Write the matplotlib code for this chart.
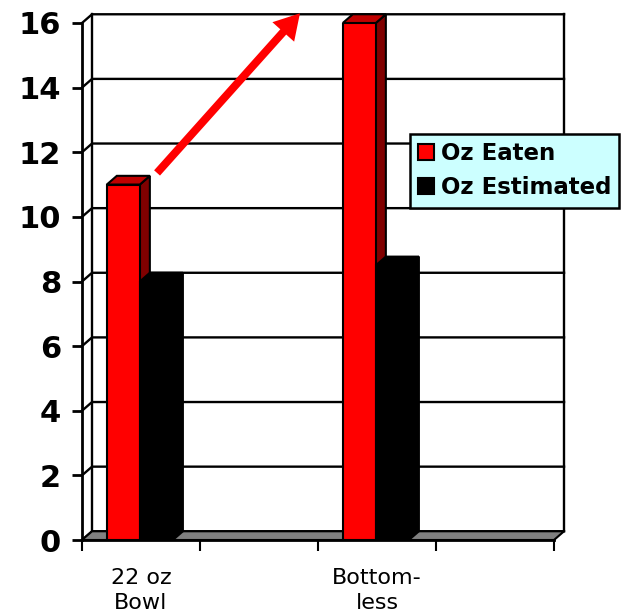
import matplotlib
matplotlib.use("Agg")
import matplotlib.pyplot as plt
from matplotlib.patches import Polygon, Patch

categories = ["22 oz\nBowl", "", "Bottom-\nless", ""]
oz_eaten = [11, 16]
oz_estimated = [8, 8.5]
bar_slots = [0, 2]          # which category each pair of bars sits in
series_names = ["Oz Eaten", "Oz Estimated"]
yticks = list(range(0, 17, 2))

# depth of the fake 3d box, in data units
DX, DY = 0.085, 0.27
BAR_W = 0.28
BAR_OFF = 0.21


def bar3d(ax, x0, h, face, side, top, z):
    ax.bar(x0, h, BAR_W, align="edge", color=face, edgecolor="black",
           linewidth=1.5, zorder=z + 0.2)
    ax.add_patch(Polygon([(x0 + BAR_W, 0), (x0 + BAR_W + DX, DY),
                          (x0 + BAR_W + DX, h + DY), (x0 + BAR_W, h)],
                         closed=True, facecolor=side, edgecolor="black",
                         linewidth=1.5, zorder=z, clip_on=False))
    ax.add_patch(Polygon([(x0, h), (x0 + BAR_W, h), (x0 + BAR_W + DX, h + DY),
                          (x0 + DX, h + DY)],
                         closed=True, facecolor=top, edgecolor="black",
                         linewidth=1.5, zorder=z + 0.1, clip_on=False))


fig = plt.figure(figsize=(6.27, 6.15), dpi=100)
ax = fig.add_axes([82 / 627, 1 - 540 / 615, 472 / 627, 517 / 615])
n = len(categories)
ax.set_xlim(0, n)
ax.set_ylim(0, 16)

# back wall, grid and side wall
ymax = yticks[-1]
for v in yticks:
    ax.plot([0, DX, n + DX], [v, v + DY, v + DY], color="black", lw=1.7,
            zorder=1, clip_on=False, solid_joinstyle="miter")
ax.plot([DX, DX], [DY, ymax + DY], color="black", lw=1.7, zorder=1, clip_on=False)
ax.plot([n + DX, n + DX], [DY, ymax + DY], color="black", lw=1.7, zorder=1,
        clip_on=False)

# floor
ax.add_patch(Polygon([(0, 0), (n, 0), (n + DX, DY), (DX, DY)], closed=True,
                     facecolor="#808080", edgecolor="black", linewidth=1.5,
                     zorder=2, clip_on=False))

for i, slot in enumerate(bar_slots):
    x_red = slot + BAR_OFF
    x_blk = x_red + BAR_W
    bar3d(ax, x_red, oz_eaten[i], "#FF0000", "#800000", "#C00000", 3)
    bar3d(ax, x_blk, oz_estimated[i], "black", "black", "black", 4)

for s in ["top", "right"]:
    ax.spines[s].set_visible(False)
for s in ["left", "bottom"]:
    ax.spines[s].set_linewidth(2)
    ax.spines[s].set_zorder(6)

ax.set_yticks(yticks)
ax.set_yticklabels([str(v) for v in yticks], fontsize=22, fontweight="bold")
ax.tick_params(axis="y", length=7, width=2, pad=8)

ax.set_xticks(range(n + 1))
ax.set_xticklabels([""] * (n + 1))
ax.tick_params(axis="x", which="major", length=8, width=1.5)
ax.set_xticks([i + 0.5 for i in range(n)], minor=True)
ax.set_xticklabels(categories, minor=True, fontsize=16)
ax.tick_params(axis="x", which="minor", length=0, pad=20)
for lbl in ax.get_xticklabels(minor=True):
    lbl.set_linespacing(1.35)

# the growth arrow from the bowl bar toward the bottomless bar
ax.annotate("", xy=(1.847, 16.3), xytext=(0.636, 11.36),
            arrowprops=dict(arrowstyle="simple,head_length=1.2,head_width=1.4,tail_width=0.38",
                            color="red", lw=0, shrinkA=0, shrinkB=0,
                            mutation_scale=15),
            annotation_clip=False, zorder=7)

handles = [Patch(facecolor="#FF0000", edgecolor="black", linewidth=1.5),
           Patch(facecolor="black", edgecolor="black", linewidth=1.5)]
leg = fig.legend(handles, series_names, loc="upper left",
                 bbox_to_anchor=(410 / 627, 1 - 134 / 615),
                 bbox_transform=fig.transFigure, fancybox=False,
                 prop=dict(size=16.5, weight="bold"), handlelength=0.7,
                 handleheight=0.7, handletextpad=0.3, labelspacing=0.5,
                 borderpad=0.35, borderaxespad=0, framealpha=1)
leg.get_frame().set_facecolor("#CCFFFF")
leg.get_frame().set_edgecolor("black")
leg.get_frame().set_linewidth(1.8)

fig.savefig("out.png", dpi=100)
